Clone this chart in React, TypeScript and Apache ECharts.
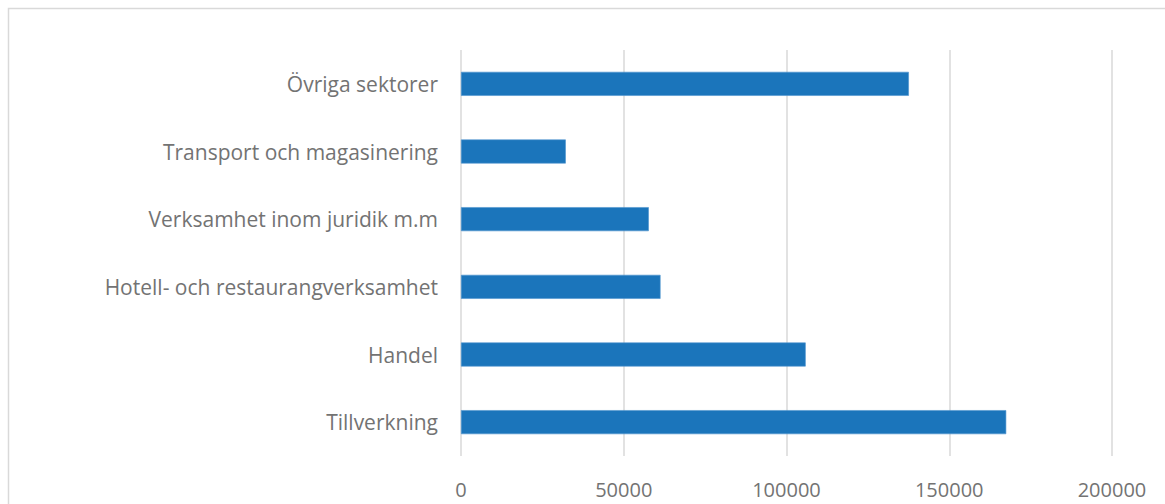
import React, { useEffect, useRef } from "react";
import * as echarts from "echarts";

const categories = [
  "Tillverkning",
  "Handel",
  "Hotell- och restaurangverksamhet",
  "Verksamhet inom juridik m.m",
  "Transport och magasinering",
  "Övriga sektorer",
];
const values = [167500, 105900, 61300, 57700, 32200, 137600];
const xTicks = { min: 0, max: 200000, interval: 50000 };

export default function App() {
  const ref = useRef<HTMLDivElement>(null);
  useEffect(() => {
    document.body.style.margin = "0";
    const chart = echarts.init(ref.current!, null, { renderer: "svg" });
    const font = "'Open Sans', 'Liberation Sans', sans-serif";
    chart.setOption({
      animation: false,
      backgroundColor: "#ffffff",
      graphic: [
        {
          type: "rect",
          shape: { x: 8.5, y: 8.5, width: 1200, height: 600 },
          style: { fill: "none", stroke: "#d9d9d9", lineWidth: 1.5 },
          silent: true,
        },
      ],
      grid: { left: 461, right: 53, top: 50, bottom: 48, containLabel: false },
      xAxis: {
        type: "value",
        min: xTicks.min,
        max: xTicks.max,
        interval: xTicks.interval,
        axisLine: { show: false },
        axisTick: { show: false },
        splitLine: { show: true, lineStyle: { color: "#d9d9d9", width: 1.5 } },
        axisLabel: {
          color: "#737373",
          fontSize: 20,
          fontFamily: font,
          margin: 23,
          formatter: (v: number) => String(v),
        },
      },
      yAxis: {
        type: "category",
        data: categories,
        axisLine: { show: false },
        axisTick: { show: false },
        splitLine: { show: false },
        axisLabel: {
          color: "#737373",
          fontSize: 21,
          fontFamily: font,
          margin: 23,
        },
      },
      series: [
        {
          type: "bar",
          data: values,
          barWidth: 24,
          itemStyle: { color: "#1b75bb", borderColor: "#4d93cf", borderWidth: 0.6 },
        },
      ],
    });
    return () => chart.dispose();
  }, []);
  return (
    <div
      ref={ref}
      style={{ position: "absolute", left: 0, top: 0, width: 1165, height: 504 }}
    />
  );
}
